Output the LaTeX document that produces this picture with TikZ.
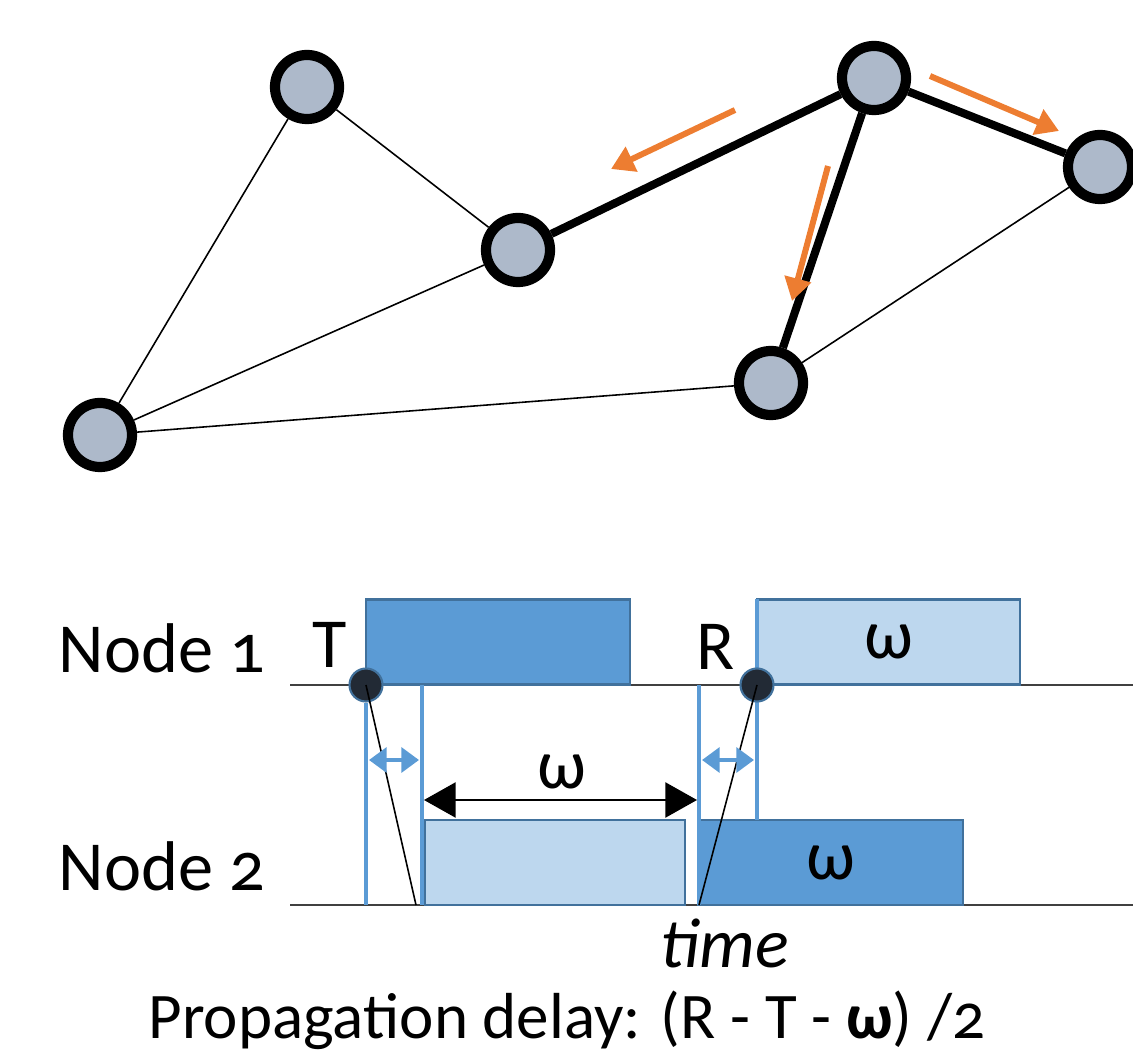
\documentclass[tikz,border=0pt]{standalone}
\usepackage{fontspec}
\setmainfont[Numbers=OldStyle]{Carlito}
\usetikzlibrary{arrows.meta}

\definecolor{nodegray}{HTML}{ADB9CA}
\definecolor{flow}{HTML}{ED7D31}
\definecolor{pkt}{HTML}{5B9BD5}
\definecolor{pktlight}{HTML}{BDD7EE}
\definecolor{pktedge}{HTML}{41719C}
\definecolor{stampfill}{HTML}{222A35}

\begin{document}
\begin{tikzpicture}[x=0.01cm, y=-0.01cm,
    station/.style={circle, draw, fill=nodegray, line width=2.9pt, minimum size=0.64cm, inner sep=0pt},
    weak/.style={line width=0.45pt},
    strong/.style={line width=2.3pt},
    flowarrow/.style={flow, line width=1.7pt, -{Triangle[length=6.5pt, width=7.5pt]}},
    packet/.style={draw=pktedge, line width=0.8pt, minimum height=0.85cm, inner sep=0pt, font=\fontsize{20}{24}\selectfont},
    stamp/.style={circle, draw=pktedge, fill=stampfill, line width=0.6pt, minimum size=0.33cm, inner sep=0pt},
    marker/.style={pkt, line width=1.4pt},
    txt/.style={font=\fontsize{20}{24}\selectfont, inner sep=0pt}
  ]
  \useasboundingbox (0,0) rectangle (1133,1061);

  % network
  \node[station] (a) at (307,87) {};
  \node[station] (b) at (518,250) {};
  \node[station] (c) at (874,78) {};
  \node[station] (d) at (1100,167) {};
  \node[station] (e) at (771,383) {};
  \node[station] (f) at (100,435) {};

  \begin{scope}[on background layer/.try]
    \draw[weak] (a) -- (b);
    \draw[weak] (a) -- (f);
    \draw[weak] (f) -- (b);
    \draw[weak] (f) -- (e);
    \draw[weak] (e) -- (d);
    \draw[strong] (b) -- (c);
    \draw[strong] (c) -- (d);
    \draw[strong] (c) -- (e);
  \end{scope}

  \coordinate (f1s) at (735,110);  \coordinate (f1e) at (611,169);
  \coordinate (f2s) at (930,76);   \coordinate (f2e) at (1059,131);
  \coordinate (f3s) at (828,166);  \coordinate (f3e) at (792,301);
  \draw[flowarrow] (f1s) -- (f1e);
  \draw[flowarrow] (f2s) -- (f2e);
  \draw[flowarrow] (f3s) -- (f3e);

  % timelines
  \node[txt, anchor=west] (n1) at (58,648) {Node 1};
  \node[txt, anchor=west] (n2) at (58,866) {Node 2};
  \coordinate (l1s) at (290,685);  \coordinate (l1e) at (1133,685);
  \coordinate (l2s) at (290,905);  \coordinate (l2e) at (1133,905);
  \draw[black!75, line width=0.5pt] (l1s) -- (l1e);
  \draw[black!75, line width=0.5pt] (l2s) -- (l2e);

  \node[packet, fill=pkt, minimum width=2.64cm] (p1) at (498,642) {};
  \node[packet, fill=pktlight, minimum width=2.63cm] (p2) at (888.5,642) {ω};
  \node[packet, fill=pktlight, minimum width=2.60cm] (q1) at (555,862.5) {};
  \node[packet, fill=pkt, minimum width=2.65cm] (q2) at (830.5,862.5) {ω};

  % send and receive marks
  \coordinate (t0) at (366,905);
  \coordinate (t1) at (422,685);  \coordinate (t2) at (422,905);
  \coordinate (r0) at (699,685);  \coordinate (r1) at (699,905);
  \coordinate (r2) at (757,599);  \coordinate (r3) at (757,820);
  \draw[marker] (t1) -- (t2);
  \draw[marker] (r0) -- (r1);
  \draw[marker] (r2) -- (r3);
  \node[stamp] (T) at (366,685) {};
  \draw[marker] (T.south) -- (t0);
  \node[stamp] (R) at (757,685) {};
  \node[txt] (tl) at (330,645) {T};
  \node[txt] (rl) at (716,647) {R};

  \coordinate (ts) at (416,905);
  \draw[line width=0.45pt] (T.center) -- (ts);
  \draw[line width=0.45pt] (r1) -- (R.center);

  \coordinate (da) at (369,760);  \coordinate (db) at (419,760);
  \coordinate (dc) at (702,760);  \coordinate (dd) at (754,760);
  \draw[pkt, line width=1.2pt, {Triangle[length=5pt, width=7pt]}-{Triangle[length=5pt, width=7pt]}] (da) -- (db);
  \draw[pkt, line width=1.2pt, {Triangle[length=5pt, width=7pt]}-{Triangle[length=5pt, width=7pt]}] (dc) -- (dd);

  \coordinate (wa) at (424,800);  \coordinate (wb) at (697,800);
  \draw[line width=0.5pt, {Triangle[length=9pt, width=10pt]}-{Triangle[length=9pt, width=10pt]}] (wa) -- (wb);
  \node[txt] (wl) at (562,772) {ω};

  \node[txt, font=\fontsize{20}{24}\selectfont\itshape] (time) at (725,943) {time};
  \node[txt, font=\fontsize{18.5}{22}\selectfont] (delay) at (567,1020) {Propagation delay: (R - T - \textbf{ω}) /2};
\end{tikzpicture}
\end{document}
